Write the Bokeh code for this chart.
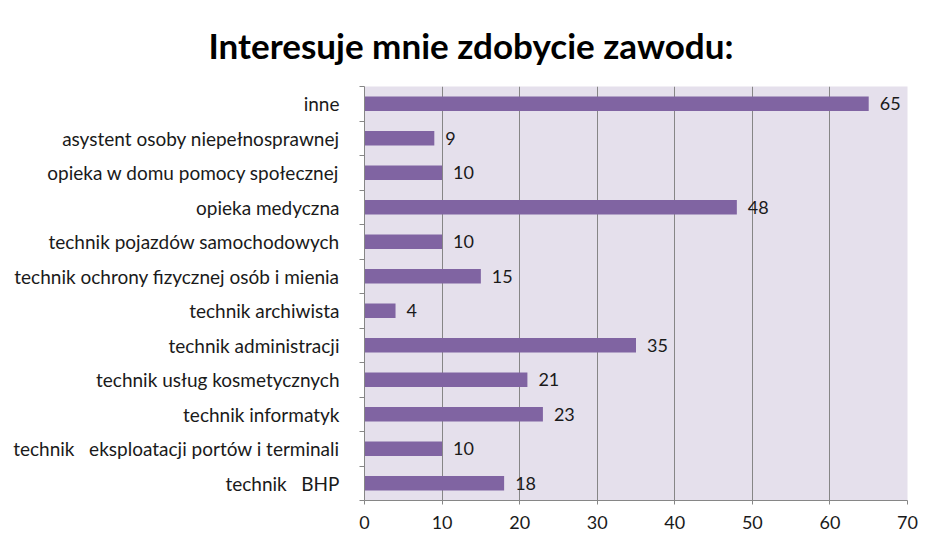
from bokeh.plotting import figure
from bokeh.models import (ColumnDataSource, FixedTicker, Range1d, LabelSet, Title)
from bokeh.core.properties import value
from bokeh.embed import file_html
from bokeh.resources import INLINE

# Data (top to bottom as displayed)
categories = [
    "inne",
    "asystent osoby niepełnosprawnej",
    "opieka w domu pomocy społecznej",
    "opieka medyczna",
    "technik pojazdów samochodowych",
    "technik ochrony fizycznej osób i mienia",
    "technik archiwista",
    "technik administracji",
    "technik usług kosmetycznych",
    "technik informatyk",
    "technik\u00a0\u00a0\u00a0eksploatacji portów i terminali",
    "technik\u00a0\u00a0\u00a0BHP",
]
values = [65, 9, 10, 48, 10, 15, 4, 35, 21, 23, 10, 18]
x_ticks = [0, 10, 20, 30, 40, 50, 60, 70]
title_text = "Interesuje mnie zdobycie zawodu:"

n = len(categories)
ypos = [n - i - 0.5 for i in range(n)]
src = ColumnDataSource(dict(y=ypos, v=values, lab=[str(v) for v in values], cat=categories))

FONT = "Lato"
BAR = "#8064A2"
GRID = "#868686"
TXT = "#1a1a1a"

p = figure(width=925, height=548, output_backend="svg", toolbar_location=None,
           x_range=Range1d(0, 70), y_range=Range1d(0, n),
           min_border_left=364, min_border_right=18, min_border_top=86, min_border_bottom=48)
p.outline_line_color = None
p.background_fill_color = "#E5E0EC"
p.border_fill_color = "white"

p.hbar(y="y", right="v", left=0, height=0.42, source=src, color=BAR, line_color=None)

labels = LabelSet(x="v", y="y", text="lab", source=src, x_offset=11, y_offset=0,
                  text_baseline="middle", text_align="left", text_font=value(FONT),
                  text_font_size=value("18px"), text_color=TXT)
p.add_layout(labels)

# x axis
p.xaxis.ticker = FixedTicker(ticks=x_ticks)
p.xaxis.axis_line_color = GRID
p.xaxis.major_tick_line_color = GRID
p.xaxis.major_tick_out = 4
p.xaxis.major_tick_in = 0
p.xaxis.minor_tick_line_color = None
p.xaxis.major_label_text_font = FONT
p.xaxis.major_label_text_font_size = "18px"
p.xaxis.major_label_text_color = TXT
p.xaxis.major_label_standoff = 11

# y axis: labels at centres, small ticks at boundaries
p.yaxis.ticker = FixedTicker(ticks=ypos, minor_ticks=list(range(0, n + 1)))
p.yaxis.major_label_overrides = {y: c for y, c in zip(ypos, categories)}
p.yaxis.major_tick_line_color = None
p.yaxis.minor_tick_line_color = GRID
p.yaxis.minor_tick_out = 5
p.yaxis.minor_tick_in = 0
p.yaxis.axis_line_color = GRID
p.yaxis.major_label_text_font = FONT
p.yaxis.major_label_text_font_size = "19px"
p.yaxis.major_label_text_color = TXT
p.yaxis.major_label_standoff = 19

p.xgrid.ticker = FixedTicker(ticks=x_ticks[1:])
p.xgrid.grid_line_color = GRID
p.ygrid.grid_line_color = None

t = Title(text=title_text, align="left", offset=-156, text_font=FONT,
          text_font_size="35px", text_font_style="bold", text_color="black",
          standoff=42)
p.add_layout(t, "above")

open("out.html", "w").write(file_html(p, INLINE))
